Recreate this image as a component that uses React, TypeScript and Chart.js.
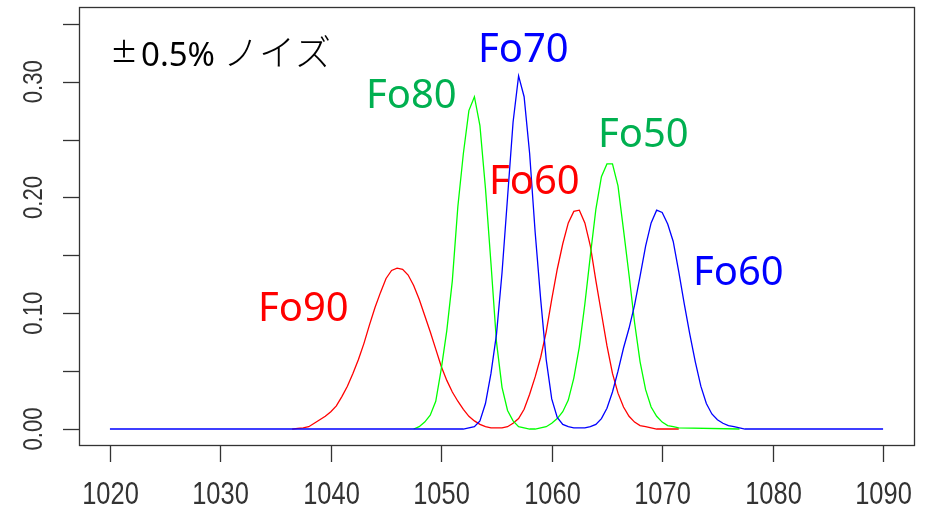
import React, { useEffect, useRef } from "react";
import { Chart, registerables } from "chart.js";

Chart.register(...registerables);

// ---- data ----
const redX = [1036.5,1037,1037.5,1038,1038.5,1039,1039.5,1040,1040.5,1041,1041.5,1042,1042.5,1043,1043.5,1044,1044.5,1045,1045.5,1046,1046.5,1047,1047.5,1048,1048.5,1049,1049.5,1050,1050.5,1051,1051.5,1052,1052.5,1053,1053.5,1054,1054.5,1055,1055.5,1056,1056.5,1057,1057.5,1058,1058.5,1059,1059.5,1060,1060.5,1061,1061.5,1062,1062.5,1063,1063.5,1064,1064.5,1065,1065.5,1066,1066.5,1067,1067.5,1068,1068.5,1069,1069.5,1071.5];
const redY = [0,0.0005,0.001,0.002,0.005,0.008,0.011,0.015,0.020,0.028,0.037,0.048,0.060,0.074,0.090,0.105,0.118,0.130,0.137,0.139,0.138,0.133,0.124,0.112,0.098,0.084,0.069,0.054,0.042,0.032,0.024,0.017,0.011,0.007,0.004,0.002,0.001,0.001,0.001,0.002,0.005,0.009,0.017,0.030,0.045,0.062,0.084,0.112,0.138,0.160,0.178,0.188,0.189,0.178,0.158,0.128,0.100,0.072,0.048,0.031,0.019,0.011,0.006,0.003,0.002,0.001,0,0];

const greenX = [1047.5,1048,1048.5,1049,1049.5,1050,1050.5,1051,1051.5,1052,1052.5,1053,1053.5,1054,1054.5,1055,1055.5,1056,1056.5,1057,1057.5,1058,1058.5,1059,1059.5,1060,1060.5,1061,1061.5,1062,1062.5,1063,1063.5,1064,1064.5,1065,1065.5,1066,1066.5,1067,1067.5,1068,1068.5,1069,1069.5,1070,1070.5,1071,1071.5,1077];
const greenY = [0,0.002,0.006,0.012,0.024,0.052,0.085,0.128,0.192,0.238,0.275,0.287,0.262,0.208,0.143,0.075,0.036,0.016,0.007,0.002,0.001,0,0,0.001,0.002,0.005,0.009,0.015,0.025,0.044,0.071,0.108,0.150,0.190,0.218,0.229,0.229,0.210,0.172,0.133,0.092,0.058,0.034,0.019,0.011,0.006,0.003,0.002,0.001,0];

const blueX = [1020,1052,1052.5,1053,1053.5,1054,1054.5,1055,1055.5,1056,1056.5,1057,1057.5,1058,1058.5,1059,1059.5,1060,1060.5,1061,1061.5,1062,1062.5,1063,1063.5,1064,1064.5,1065,1065.5,1066,1066.5,1067,1067.5,1068,1068.5,1069,1069.5,1070,1070.5,1071,1071.5,1072,1072.5,1073,1073.5,1074,1074.5,1075,1075.5,1076,1076.5,1077,1077.5,1090];
const blueY = [0,0,0.001,0.002,0.007,0.022,0.048,0.082,0.135,0.200,0.265,0.305,0.287,0.238,0.170,0.112,0.060,0.026,0.010,0.004,0.002,0.001,0.001,0.001,0.002,0.004,0.009,0.018,0.032,0.050,0.070,0.087,0.107,0.132,0.158,0.178,0.189,0.187,0.177,0.162,0.136,0.108,0.082,0.058,0.037,0.022,0.013,0.008,0.005,0.003,0.002,0.001,0,0];

const xTicks = [1020, 1030, 1040, 1050, 1060, 1070, 1080, 1090];
const yTicks = [0, 0.05, 0.1, 0.15, 0.2, 0.25, 0.3, 0.35];
const yLabelValues = [0, 0.1, 0.2, 0.3];

const peakLabels = ["Fo90", "Fo80", "Fo70", "Fo60", "Fo50", "Fo60"];
const noteText = ["±", "0.5%", "ノイズ"];

// ---- layout / style (not data) ----
const labelStyles = [
  { color: "#ff0000", x: 258, y: 321 },
  { color: "#00b050", x: 366, y: 108 },
  { color: "#0000ff", x: 478, y: 62 },
  { color: "#ff0000", x: 489, y: 194 },
  { color: "#00b050", x: 598, y: 147 },
  { color: "#0000ff", x: 693, y: 285 },
];

function zip(xs: number[], ys: number[]) {
  const n = Math.min(xs.length, ys.length);
  const out: { x: number; y: number }[] = [];
  for (let i = 0; i < n; i++) out.push({ x: xs[i], y: ys[i] });
  return out;
}

const axisPlugin = {
  id: "rAxes",
  afterDatasetsDraw(chart: any) {
    const ctx = chart.ctx as CanvasRenderingContext2D;
    const { left, right, top, bottom } = chart.chartArea;
    const xs = chart.scales.x;
    const ys = chart.scales.y;
    ctx.save();
    ctx.strokeStyle = "#333";
    ctx.lineWidth = 1.3;
    ctx.strokeRect(Math.round(left) + 0.5, Math.round(top) + 0.5, Math.round(right - left), Math.round(bottom - top));

    // x ticks
    ctx.fillStyle = "#333";
    ctx.font = '31px "Liberation Sans", Arial, sans-serif';
    ctx.textAlign = "center";
    ctx.textBaseline = "alphabetic";
    for (const t of xTicks) {
      const px = Math.round(xs.getPixelForValue(t)) + 0.5;
      ctx.beginPath();
      ctx.moveTo(px, bottom);
      ctx.lineTo(px, bottom + 17);
      ctx.stroke();
      ctx.save();
      ctx.translate(px, 504);
      ctx.scale(0.82, 1);
      ctx.fillText(String(t), 0, 0);
      ctx.restore();
    }
    // y ticks
    for (const t of yTicks) {
      const py = Math.round(ys.getPixelForValue(t)) + 0.5;
      ctx.beginPath();
      ctx.moveTo(left, py);
      ctx.lineTo(left - 16, py);
      ctx.stroke();
    }
    ctx.font = '27px "Liberation Sans", Arial, sans-serif';
    for (const t of yLabelValues) {
      const py = ys.getPixelForValue(t);
      ctx.save();
      ctx.translate(42, py);
      ctx.rotate(-Math.PI / 2);
      ctx.scale(0.82, 1);
      ctx.textAlign = "center";
      ctx.textBaseline = "alphabetic";
      ctx.fillText(t.toFixed(2), 0, 0);
      ctx.restore();
    }

    // peak labels
    ctx.textAlign = "left";
    ctx.textBaseline = "alphabetic";
    ctx.font = '40px "Noto Sans", "Open Sans", sans-serif';
    peakLabels.forEach((txt, i) => {
      const s = labelStyles[i];
      ctx.fillStyle = s.color;
      ctx.fillText(txt, s.x, s.y);
    });

    // note
    ctx.fillStyle = "#000";
    ctx.font = '28px "Noto Sans CJK JP", sans-serif';
    ctx.fillText(noteText[0], 110, 63);
    ctx.font = '33px "Noto Sans", "Open Sans", sans-serif';
    ctx.fillText(noteText[1], 141, 66);
    ctx.font = '300 36px "Noto Sans CJK JP", sans-serif';
    ctx.fillText(noteText[2], 223, 66);
    ctx.restore();
  },
};

export default function App() {
  const ref = useRef<HTMLCanvasElement | null>(null);
  useEffect(() => {
    if (!ref.current) return;
    const chart = new Chart(ref.current, {
      type: "line",
      data: {
        datasets: [
          { data: zip(blueX, blueY), borderColor: "#0000ff", borderWidth: 1.3, pointRadius: 0, tension: 0, fill: false },
          { data: zip(greenX, greenY), borderColor: "#00ff00", borderWidth: 1.3, pointRadius: 0, tension: 0, fill: false },
          { data: zip(redX, redY), borderColor: "#ff0000", borderWidth: 1.3, pointRadius: 0, tension: 0, fill: false },
        ],
      },
      options: {
        animation: false,
        responsive: false,
        maintainAspectRatio: false,
        layout: { padding: { left: 79, top: 7, right: 12, bottom: 64 } },
        plugins: { legend: { display: false }, tooltip: { enabled: false } },
        scales: {
          x: { type: "linear", min: 1017.2, max: 1092.8, display: false },
          y: { type: "linear", min: -0.0138, max: 0.3645, display: false },
        },
      },
      plugins: [axisPlugin],
    });
    return () => chart.destroy();
  }, []);
  return (
    <div style={{ position: "fixed", left: 0, top: 0, width: 926, height: 509, background: "#fff" }}>
      <canvas ref={ref} width={926} height={509} style={{ width: 926, height: 509 }} />
    </div>
  );
}
